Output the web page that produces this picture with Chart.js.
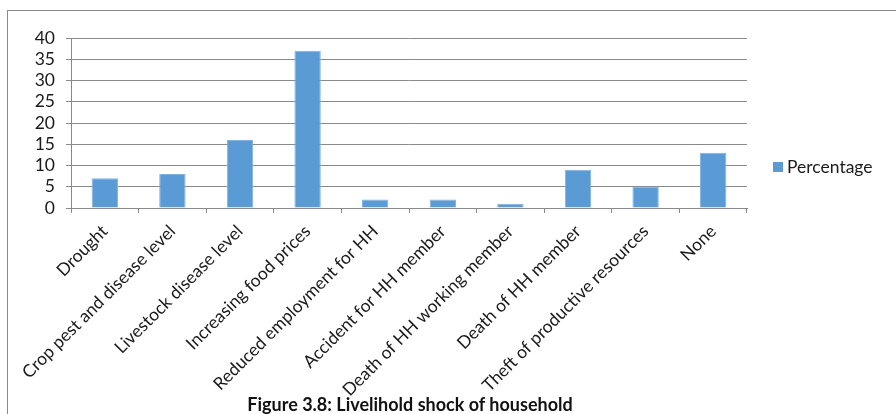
<!DOCTYPE html>
<html>
<head>
<meta charset="utf-8">
<script src="https://cdn.jsdelivr.net/npm/chart.js@4.4.1/dist/chart.umd.min.js"></script>
<style>
  html, body { margin: 0; padding: 0; background: #fff; }
  #wrap { position: relative; width: 896px; height: 414px; overflow: hidden; font-family: Lato, "Open Sans", sans-serif; }
  #frame { position: absolute; left: 7px; top: 10px; width: 900px; height: 420px;
           border-left: 1px solid #8a8a8a; border-top: 1px solid #8a8a8a; }
  canvas { position: absolute; left: 0; top: 0; }
  #legend { position: absolute; left: 773px; top: 156px; display: flex; align-items: center;
            font-size: 17.5px; color: #1a1a1a; }
  #legend .sw { width: 10px; height: 10px; margin-right: 4px; }
  #caption { position: absolute; left: 0; width: 820px; top: 393px; text-align: center;
             font-weight: bold; font-size: 18px; color: #111; }
</style>
</head>
<body>
<div id="wrap">
  <div id="frame"></div>
  <canvas id="c" width="896" height="414"></canvas>
  <div id="legend"><div class="sw"></div><span></span></div>
  <div id="caption">Figure 3.8: Livelihold shock of household</div>
</div>
<script>
// Household livelihood shocks (% of households)
const categories = [
  "Drought",
  "Crop pest and disease level",
  "Livestock disease level",
  "Increasing food prices",
  "Reduced employment for HH",
  "Accident for HH member",
  "Death of HH working member",
  "Death of HH member",
  "Theft of productive resources",
  "None"
];
const seriesName = "Percentage";
const percentages = [7, 8, 16, 37, 2, 2, 1, 9, 5, 13];
const yTicks = [0, 5, 10, 15, 20, 25, 30, 35, 40];

const barColor = "#5B9BD5";
const gridColor = "#8a8a8a";
const textColor = "#1a1a1a";
const labelFont = { family: "Lato", size: 17.5 };

document.querySelector("#legend .sw").style.background = barColor;
document.querySelector("#legend span").textContent = seriesName;

new Chart(document.getElementById("c"), {
  type: "bar",
  data: {
    labels: categories,
    datasets: [{
      label: seriesName,
      data: percentages,
      backgroundColor: barColor,
      borderColor: "#7fb2e3",
      borderWidth: 1,
      barPercentage: 0.39,
      categoryPercentage: 1.0
    }]
  },
  options: {
    responsive: false,
    animation: false,
    devicePixelRatio: 1,
    layout: { padding: { left: 0, top: 38, right: 149, bottom: 0 } },
    plugins: { legend: { display: false }, tooltip: { enabled: false } },
    scales: {
      x: {
        afterFit: (s) => { s.height = 206; },
        grid: { offset: true, drawOnChartArea: false, drawTicks: true, tickLength: 5, color: gridColor },
        border: { color: gridColor },
        ticks: {
          maxRotation: 45, minRotation: 45, autoSkip: false, padding: 8,
          color: textColor, font: labelFont
        }
      },
      y: {
        min: 0, max: 40,
        afterFit: (s) => { s.width = 71; },
        afterBuildTicks: (s) => { s.ticks = yTicks.map(v => ({ value: v })); },
        grid: { color: gridColor, tickLength: 5 },
        border: { color: gridColor },
        ticks: { autoSkip: false, padding: 11, color: textColor, font: labelFont }
      }
    }
  }
});
</script>
</body>
</html>
